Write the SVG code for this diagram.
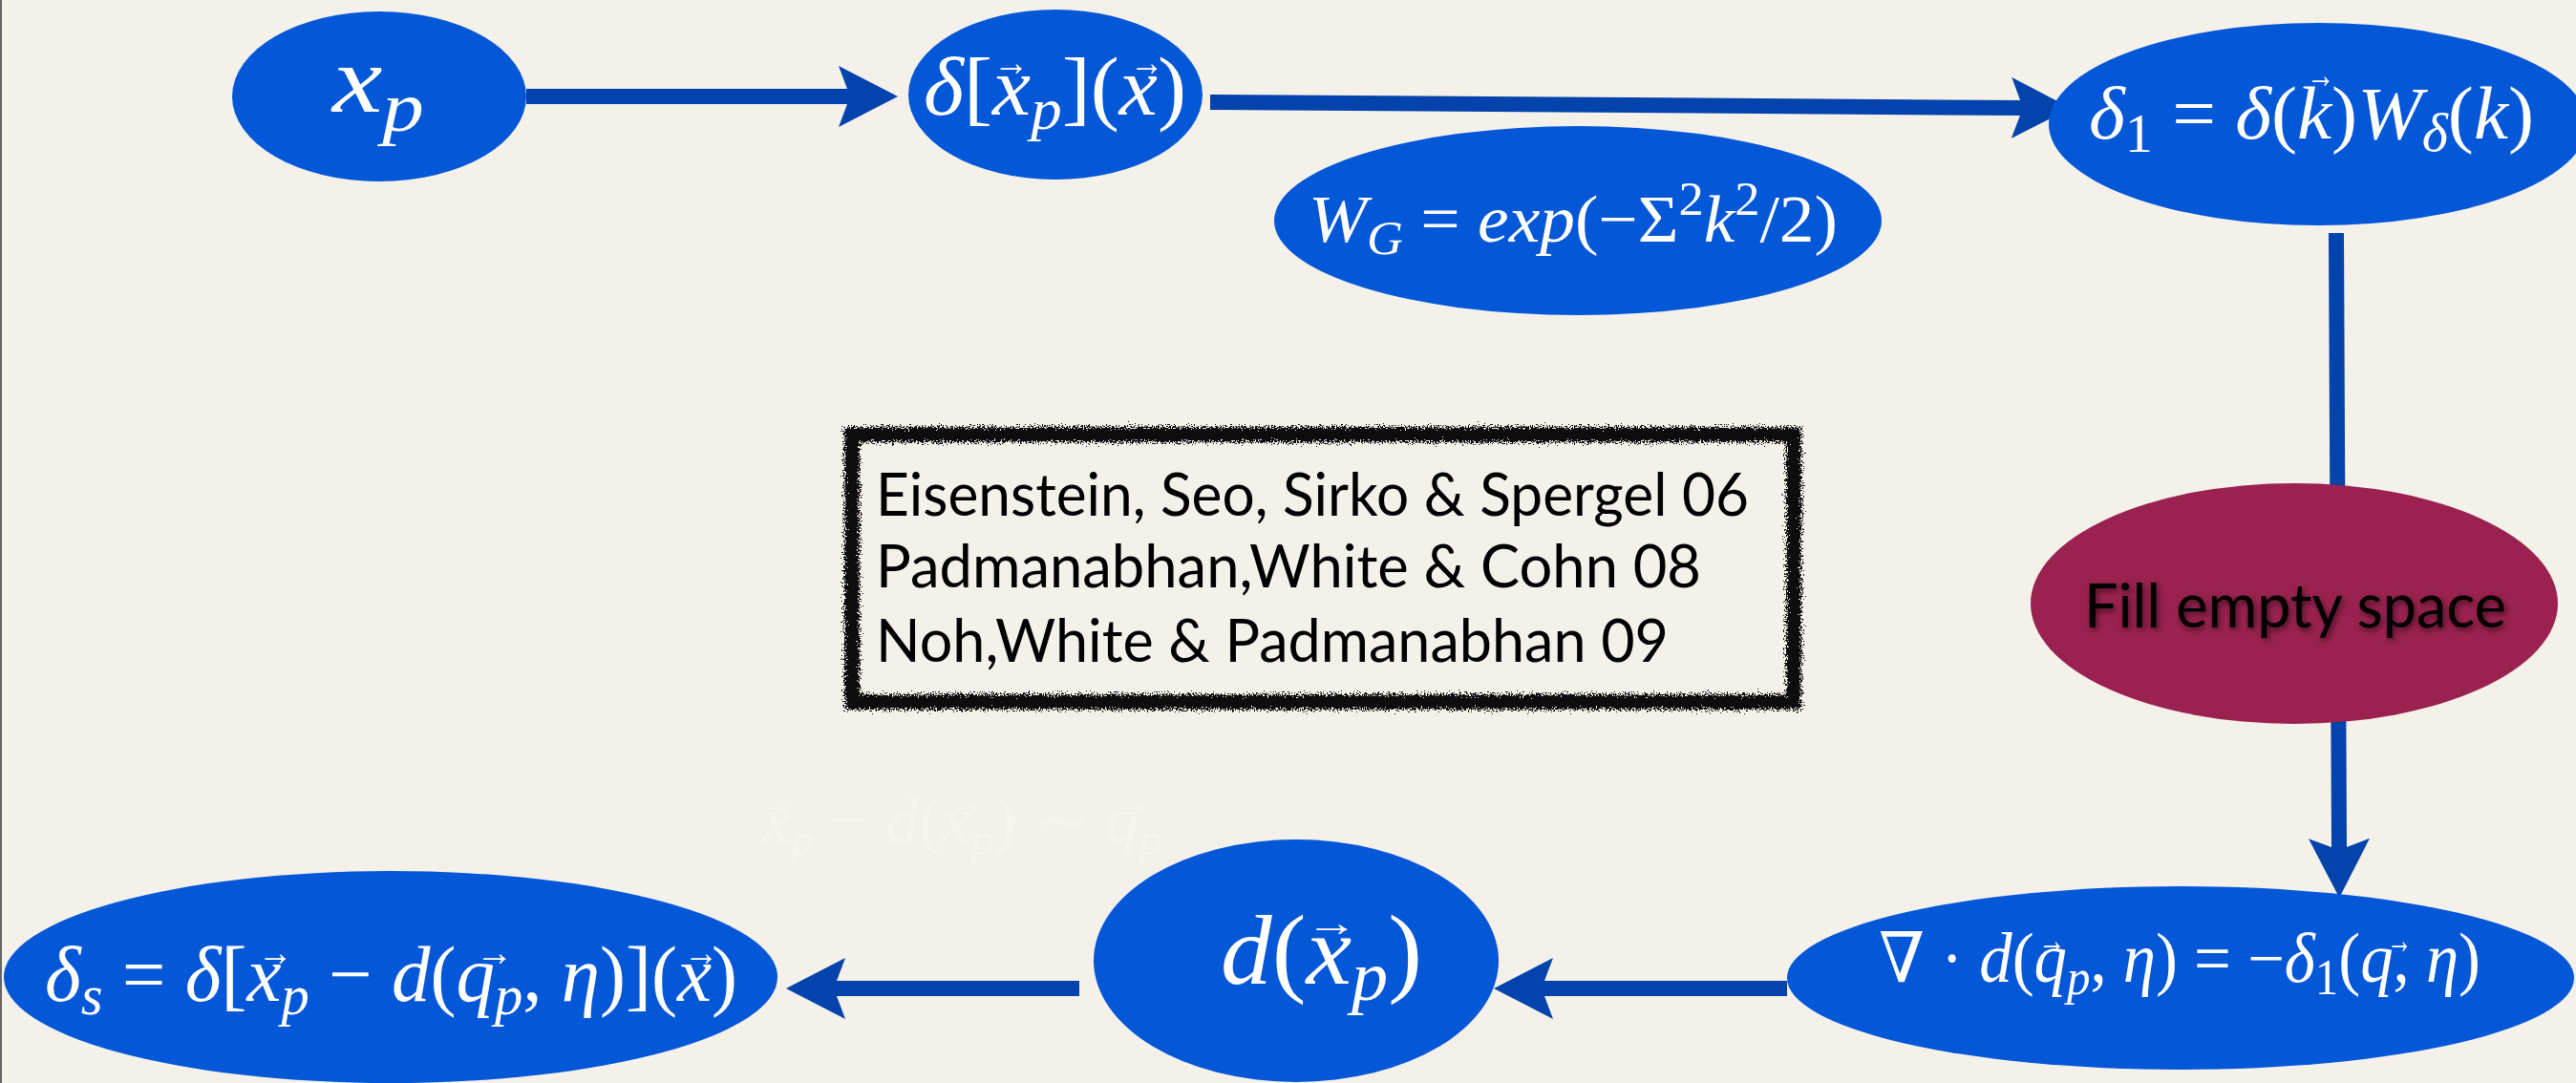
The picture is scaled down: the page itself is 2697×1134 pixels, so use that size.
<svg xmlns="http://www.w3.org/2000/svg" width="2697" height="1134" viewBox="0 0 2697 1134">
<defs>
<style>
.bg{fill:#f4f1ea}
.node{fill:#0457d6}
.fill-node{fill:#9a2150}
.conn{stroke:#0343ab;stroke-width:16;fill:none;marker-end:url(#ah)}
.m{font-family:"Liberation Serif","DejaVu Serif",serif;font-style:italic;fill:#ffffff}
.u{font-style:normal}
.vec{font-family:"Liberation Serif","DejaVu Serif",serif;font-size:40px;fill:#ffffff}
.ref{font-family:Lato,"Open Sans","Liberation Sans",sans-serif;font-size:61px;fill:#000}
.lbl{font-family:Lato,"Open Sans","Liberation Sans",sans-serif;font-size:63px;fill:#000}
</style>
<marker id="ah" markerUnits="userSpaceOnUse" viewBox="0 0 62 64" refX="12" refY="32" markerWidth="62" markerHeight="64" orient="auto">
<path d="M0,0 L62,32 L0,64 L12,32 Z" fill="#0343ab"/>
</marker>
<filter id="rough" x="-5%" y="-10%" width="110%" height="120%">
<feTurbulence type="fractalNoise" baseFrequency="0.7" numOctaves="3" seed="4" result="n"/>
<feDisplacementMap in="SourceGraphic" in2="n" scale="15" xChannelSelector="R" yChannelSelector="G"/>
</filter>
<filter id="shadow" x="-10%" y="-30%" width="120%" height="160%">
<feDropShadow dx="2" dy="3" stdDeviation="3" flood-color="#000" flood-opacity="0.55"/>
</filter>
</defs>
<rect class="bg" x="0" y="0" width="2697" height="1134"/>
<line x1="1" y1="0" x2="1" y2="1134" stroke="#666" stroke-width="2"/>

<g id="connectors">
<line class="conn" x1="551" y1="101" x2="890" y2="101"/>
<line class="conn" x1="1267" y1="107" x2="2118" y2="113"/>
<line class="conn" x1="2446" y1="244" x2="2449" y2="890"/>
<line class="conn" x1="1871" y1="1035" x2="1614" y2="1035"/>
<line class="conn" x1="1130" y1="1035" x2="873" y2="1035"/>
</g>

<g id="node-xp">
<ellipse class="node" cx="397" cy="101" rx="154" ry="89"/>
<text class="m" x="348" y="117" font-size="100" textLength="96" lengthAdjust="spacingAndGlyphs">x<tspan dy="20" font-size="74">p</tspan></text>
</g>

<g id="node-delta-xp">
<ellipse class="node" cx="1105" cy="99" rx="154" ry="89"/>
<text class="m" x="967" y="120" font-size="86" textLength="275" lengthAdjust="spacingAndGlyphs">δ<tspan class="u">[</tspan>x<tspan dy="15" font-size="62">p</tspan><tspan class="u" dy="-15">](</tspan>x<tspan class="u">)</tspan></text>
<text class="vec" x="1040" y="79" textLength="37" lengthAdjust="spacingAndGlyphs">→</text>
<text class="vec" x="1183" y="79" textLength="35" lengthAdjust="spacingAndGlyphs">→</text>
</g>

<g id="node-delta1">
<ellipse class="node" cx="2427" cy="130" rx="282" ry="106"/>
<text class="m" x="2187" y="145" font-size="78" textLength="466" lengthAdjust="spacingAndGlyphs">δ<tspan class="u" dy="14" font-size="56">1</tspan><tspan class="u" dy="-14"> = </tspan>δ<tspan class="u">(</tspan>k<tspan class="u">)</tspan>W<tspan dy="13" font-size="56">δ</tspan><tspan class="u" dy="-13">(</tspan>k<tspan class="u">)</tspan></text>
<text class="vec" x="2415" y="92" textLength="29" lengthAdjust="spacingAndGlyphs">→</text>
</g>

<g id="node-wg">
<ellipse class="node" cx="1652" cy="231" rx="318" ry="99"/>
<text class="m" x="1370" y="253" font-size="70" textLength="554" lengthAdjust="spacingAndGlyphs">W<tspan dy="13" font-size="50">G</tspan><tspan class="u" dy="-13"> = </tspan>exp<tspan class="u">(−Σ</tspan><tspan class="u" dy="-28" font-size="50">2</tspan><tspan dy="28">k</tspan><tspan class="u" dy="-28" font-size="50">2</tspan><tspan class="u" dy="28">/2)</tspan></text>
</g>

<g id="node-fill">
<ellipse class="fill-node" cx="2402" cy="632" rx="276" ry="126"/>
<text class="lbl" x="2182" y="657" textLength="442" lengthAdjust="spacingAndGlyphs" filter="url(#shadow)">Fill empty space</text>
</g>

<g id="node-nabla">
<ellipse class="node" cx="2283" cy="1024" rx="412" ry="96"/>
<text class="m" x="1967" y="1028" font-size="73" textLength="630" lengthAdjust="spacingAndGlyphs"><tspan class="u">∇ · </tspan>d<tspan class="u">(</tspan>q<tspan dy="13" font-size="52">p</tspan><tspan class="u" dy="-13">, </tspan>η<tspan class="u">) = −</tspan>δ<tspan class="u" dy="13" font-size="52">1</tspan><tspan class="u" dy="-13">(</tspan>q<tspan class="u">, </tspan>η<tspan class="u">)</tspan></text>
<text class="vec" x="2134" y="998" textLength="28" lengthAdjust="spacingAndGlyphs">→</text>
<text class="vec" x="2499" y="998" textLength="26" lengthAdjust="spacingAndGlyphs">→</text>
</g>

<g id="node-d">
<ellipse class="node" cx="1357" cy="1006" rx="212" ry="127"/>
<text class="m" x="1278" y="1030" font-size="104" textLength="211" lengthAdjust="spacingAndGlyphs">d<tspan class="u">(</tspan>x<tspan dy="17" font-size="74">p</tspan><tspan class="u" dy="-17">)</tspan></text>
<text class="vec" x="1367" y="980" font-size="52" textLength="54" lengthAdjust="spacingAndGlyphs">→</text>
</g>

<g id="node-deltas">
<ellipse class="node" cx="409" cy="1023" rx="405" ry="111"/>
<text class="m" x="47" y="1048" font-size="83" textLength="725" lengthAdjust="spacingAndGlyphs">δ<tspan dy="14" font-size="60">s</tspan><tspan class="u" dy="-14"> = </tspan>δ<tspan class="u">[</tspan>x<tspan dy="14" font-size="60">p</tspan><tspan class="u" dy="-14"> − </tspan>d<tspan class="u">(</tspan>q<tspan dy="14" font-size="60">p</tspan><tspan class="u" dy="-14">, </tspan>η<tspan class="u">)](</tspan>x<tspan class="u">)</tspan></text>
<text class="vec" x="270" y="1011" textLength="36" lengthAdjust="spacingAndGlyphs">→</text>
<text class="vec" x="498" y="1011" textLength="39" lengthAdjust="spacingAndGlyphs">→</text>
<text class="vec" x="716" y="1011" textLength="36" lengthAdjust="spacingAndGlyphs">→</text>
</g>

<g id="faint-relation" opacity="0.3">
<text class="m" x="797" y="882" font-size="68" textLength="420" lengthAdjust="spacingAndGlyphs">x<tspan dy="13" font-size="48">p</tspan><tspan class="u" dy="-13"> − </tspan>d<tspan class="u">(</tspan>x<tspan dy="13" font-size="48">p</tspan><tspan class="u" dy="-13">) ∼ </tspan>q<tspan dy="13" font-size="48">p</tspan></text>
<text class="vec" x="797" y="853" textLength="35" lengthAdjust="spacingAndGlyphs">→</text>
<text class="vec" x="995" y="853" textLength="35" lengthAdjust="spacingAndGlyphs">→</text>
<text class="vec" x="1168" y="853" textLength="37" lengthAdjust="spacingAndGlyphs">→</text>
</g>

<g id="references">
<rect x="892" y="455" width="986" height="280" fill="none" stroke="#111" stroke-width="16" filter="url(#rough)"/>
<text class="ref" x="917" y="540" textLength="914" lengthAdjust="spacingAndGlyphs">Eisenstein, Seo, Sirko &amp; Spergel 06</text>
<text class="ref" x="917" y="615" textLength="864" lengthAdjust="spacingAndGlyphs">Padmanabhan,White &amp; Cohn 08</text>
<text class="ref" x="917" y="693" textLength="830" lengthAdjust="spacingAndGlyphs">Noh,White &amp; Padmanabhan 09</text>
</g>
</svg>
